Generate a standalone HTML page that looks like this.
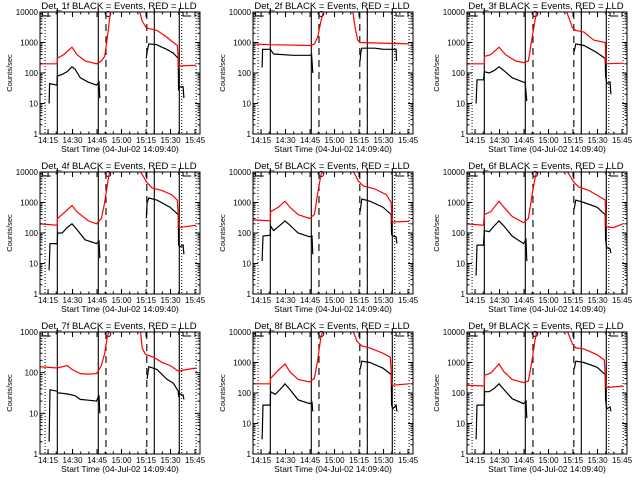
<!DOCTYPE html>
<html><head><meta charset="utf-8"><style>
html,body{margin:0;padding:0;background:#fff;}
svg{display:block;font-family:"Liberation Sans",sans-serif;}
</style></head><body>
<svg id="c" width="640" height="480" viewBox="0 0 640 480"></svg>
<script>
const titles=["Det_1f","Det_2f","Det_3f","Det_4f","Det_5f","Det_6f","Det_7f","Det_8f","Det_9f"];
const decades=[4,4,4,4,4,4,3,4,4];
const tickLabels=["14:15","14:30","14:45","15:00","15:15","15:30","15:45"];
const tickMinutes=[5.33,20.33,35.33,50.33,65.33,80.33,95.33];
const solidT=[11,36.1,70.4,85.7];
const dashedT=[40.8,65.8];
const dottedT=[3.5,87.2,96];
const b1T=[6,6.3,10.8,11,14,17,20,22,25,30,35,36.5,37,null,65.5,66,67,72,75,78,82,85,85.3,86,88,88.5];
const b1V=[10,45,40,80,90,110,160,130,70,50,40,50,15,null,300,500,900,850,700,600,450,300,30,35,35,15];
const r1T=[0,10.8,11,15,20,23,28,35,38,40,42,43.5,null,61.5,63,65.5,72,78,82,84.5,85.5,86,96];
const r1V=[200,200,300,400,700,400,250,200,250,350,2000,10000,null,10000,5000,3000,2500,1500,1000,800,150,170,180];
const b2T=[6,6.3,11,13,25,36,36.3,37,null,66,66.5,67,75,80,88,88.3];
const b2V=[150,600,600,420,380,380,400,100,null,250,500,650,650,600,600,250];
const r2T=[0,11,36,38,40,42,43.5,null,61.5,63,64.5,66,96];
const r2V=[900,850,800,900,1500,5000,10000,null,10000,3000,1200,1000,900];
const b3T=[6,6.5,10.5,11,14,17,20,23,28,35,36,37,null,66,67,72,79,85,85.3,86,88,88.5];
const b3V=[10,60,60,110,100,120,160,120,70,50,50,12,null,500,900,800,500,300,80,45,50,20];
const r3T=[0,11,11.2,15,20,24,30,35,38,40,42,43,null,61.5,65,67,72,78,85,85.5,96];
const r3V=[200,200,350,400,700,400,250,220,250,1200,5000,10000,null,10000,3000,2500,2200,1200,1000,200,210];
const b4T=[6,6.5,11,11.2,14,17,20,23,28,35,36.5,37,null,65.5,66,67,72,80,85,85.3,86,88,88.5];
const b4V=[6,45,45,100,100,150,200,130,60,45,55,15,null,300,1000,1400,1200,700,400,40,35,40,20];
const r4T=[0,11,11.2,15,20,23,30,35,38,40,42,43,null,62,66,69,75,81,84.5,85.5,96];
const r4V=[200,180,300,450,800,500,250,200,300,1000,5000,10000,null,10000,4500,3000,2500,1800,1200,150,180];
const b5T=[6,6.5,11,11.2,13,17,20,23,28,35,36.5,37,null,66,67,72,80,85,85.3,86,88,88.5];
const b5V=[12,80,85,170,120,180,250,180,100,75,80,20,null,500,1300,1100,700,400,90,80,75,45];
const r5T=[0,11,11.2,16,20,23,28,35,38,40,42,43,null,62,65,68,75,82,85,85.5,96];
const r5V=[270,250,500,700,1100,700,400,300,400,2000,8000,10000,null,10000,5000,3500,2800,1800,1000,230,240];
const b6T=[6,6.5,10.5,11,14,17,20,23,28,35,36.5,37,null,66,67,72,80,85,85.3,86,88,88.5];
const b6V=[4,40,40,120,110,170,250,170,80,45,60,12,null,600,1200,1000,700,400,60,33,30,22];
const r6T=[0,10.5,11,15,20,23,28,35,38,40,42,43,null,62,66,69,75,82,85,85.5,90,96];
const r6V=[200,180,400,500,1100,700,350,220,300,1500,6000,10000,null,10000,4500,3200,2500,1500,1200,160,150,200];
const b7T=[6,6.5,11,11.2,17,22,25,30,35,36.5,37,null,66,67,72,78,82,85,85.3,86,88,88.5];
const b7V=[2,38,35,32,30,27,22,21,20,28,10,null,70,140,120,70,55,35,27,30,28,22];
const r7T=[0,11,17,20,25,30,35,38,40,41.5,42.5,null,62,63,65,70,75,80,85,96];
const r7V=[140,130,150,120,95,92,95,150,300,700,1000,null,1000,400,280,240,180,150,110,130];
const b8T=[6,6.5,11,11.2,14,17,20,23,28,35,36.5,37,null,66,67,72,80,85,85.3,86,88,88.5];
const b8V=[3,40,40,110,90,130,200,130,60,45,50,25,null,600,1100,1000,650,400,40,30,40,25];
const r8T=[0,11,11.2,15,20,23,28,35,38,40,42,43,null,62,64,67,72,80,84.5,85.5,96];
const r8V=[200,200,300,500,900,500,280,230,300,1200,7000,10000,null,10000,5000,3500,3000,2000,1500,180,200];
const b9T=[6,6.5,11,11.2,14,17,20,23,28,35,36.5,37,null,66,67,72,80,85,85.3,86,88,88.5];
const b9V=[3,40,40,110,110,140,200,130,65,45,55,15,null,600,1100,1000,700,400,60,30,35,25];
const r9T=[0,11,11.2,15,20,23,28,35,38,40,42,43,null,62,65,67,72,80,84.5,85.5,96];
const r9V=[180,170,380,450,900,500,280,220,250,1000,5000,10000,null,10000,4000,3000,2800,1800,1200,150,170];
const blackT=[b1T,b2T,b3T,b4T,b5T,b6T,b7T,b8T,b9T], blackV=[b1V,b2V,b3V,b4V,b5V,b6V,b7V,b8V,b9V];
const redT=[r1T,r2T,r3T,r4T,r5T,r6T,r7T,r8T,r9T], redV=[r1V,r2V,r3V,r4V,r5V,r6V,r7V,r8V,r9V];

const NS="http://www.w3.org/2000/svg";
const svg=document.getElementById('c');
function mk(tag,attrs,parent){const e=document.createElementNS(NS,tag);for(const k in attrs)e.setAttribute(k,attrs[k]);parent.appendChild(e);return e;}
const colX=[0,213,427], rowY=[0,160,320];
for(let p=0;p<9;p++){
  const ox=colX[p%3], oy=rowY[Math.floor(p/3)];
  const g=mk('g',{transform:`translate(${ox},${oy})`},svg);
  
  
  const L=40,R=200,T=12,B=134,nd=decades[p];
  const xs=t=>L+(t-0.4)*1.633;
  const ys=v=>B-(Math.log10(v)/nd)*(B-T);
  const cp=mk('clipPath',{id:'cp'+p},g);mk('rect',{x:L,y:T,width:R-L,height:B-T},cp);
  solidT.forEach(t=>{const l=mk('line',{x1:xs(t),x2:xs(t),y1:8,y2:B,stroke:'#000','stroke-width':1.1},g);});
  dashedT.forEach(t=>{const l=mk('line',{x1:xs(t),x2:xs(t),y1:T,y2:B,stroke:'#000','stroke-width':1.1,'stroke-dasharray':'7,5'},g);});
  dottedT.forEach(t=>{const l=mk('line',{x1:xs(t),x2:xs(t),y1:T,y2:B,stroke:'#000','stroke-width':1,'stroke-dasharray':'1,2'},g);});
  const tm=mk('path',{d:`M${xs(2)},12 V16 H${xs(7)} M${xs(88)},12 V16 H${xs(93)}`,stroke:'#000',fill:'none','stroke-width':1},g);
  
  mk('circle',{cx:xs(42.2),cy:14,r:2.5,fill:'none',stroke:'#000'},g);
  [[blackT[p],blackV[p],'#000','black-events-line'],[redT[p],redV[p],'#f00','red-lld-line']].forEach(([tt,vv,col,nm])=>{
    let d='',pen=false;
    for(let i=0;i<tt.length;i++){
      if(tt[i]===null||vv[i]===null){pen=false;continue;}
      d+=(pen?'L':'M')+xs(tt[i]).toFixed(1)+','+ys(vv[i]).toFixed(1);pen=true;
    }
    const pth=mk('path',{d:d,stroke:col,fill:'none','stroke-width':1.2,'clip-path':`url(#cp${p})`},g);
    
    
  });
  const fr=mk('rect',{x:L,y:T,width:R-L,height:B-T,fill:'none',stroke:'#000','stroke-width':1},g);
  
  for(let d=0;d<=nd;d++){
    const y=ys(Math.pow(10,d));
    mk('line',{x1:L,x2:L+5,y1:y,y2:y,stroke:'#000'},g);mk('line',{x1:R,x2:R-5,y1:y,y2:y,stroke:'#000'},g);
    const tx=mk('text',{x:L-2,y:y+3,'font-size':8,'text-anchor':'end'},g);tx.textContent=String(Math.pow(10,d));
    
    if(d<nd)for(let m=2;m<10;m++){const ym=ys(m*Math.pow(10,d));mk('line',{x1:L,x2:L+2.5,y1:ym,y2:ym,stroke:'#000'},g);mk('line',{x1:R,x2:R-2.5,y1:ym,y2:ym,stroke:'#000'},g);}
  }
  tickMinutes.forEach((t,i)=>{
    const x=xs(t);
    mk('line',{x1:x,x2:x,y1:B,y2:B-5,stroke:'#000'},g);mk('line',{x1:x,x2:x,y1:T,y2:T+5,stroke:'#000'},g);
    const tx=mk('text',{x:x,y:B+9,'font-size':8,'text-anchor':'middle'},g);tx.textContent=tickLabels[i];
    
  });
  for(let t=0.33;t<98;t+=5){const x=xs(t);mk('line',{x1:x,x2:x,y1:B,y2:B-2.5,stroke:'#000'},g);mk('line',{x1:x,x2:x,y1:T,y2:T+2.5,stroke:'#000'},g);}
  const xt=mk('text',{x:120,y:B+18,'font-size':8.5,'text-anchor':'middle'},g);xt.textContent='Start Time (04-Jul-02 14:09:40)';
  
  const yt=mk('text',{x:0,y:0,'font-size':7.5,'text-anchor':'middle',transform:`translate(12,${(T+B)/2}) rotate(-90)`},g);yt.textContent='Counts/sec';
  
  const tt=mk('text',{x:119,y:9,'font-size':9.5,'text-anchor':'middle'},g);tt.textContent=titles[p]+' BLACK = Events, RED = LLD';
  
}
</script>
</body></html>
